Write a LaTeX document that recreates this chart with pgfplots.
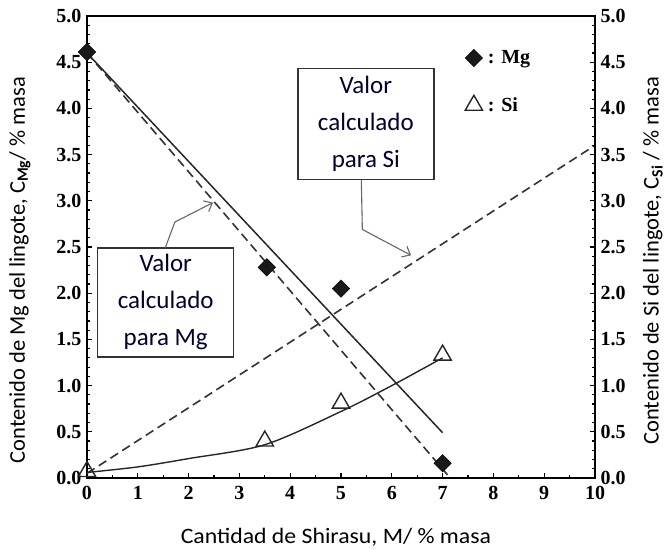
\documentclass[border=0pt]{standalone}
\usepackage{pgfplots}
\pgfplotsset{compat=1.18}
\usepackage{fontspec}
\setmainfont{Liberation Serif}
\newfontfamily\calfont{Carlito}
\newfontfamily\calwide[FakeStretch=1.08]{Carlito}
\usetikzlibrary{arrows.meta}
\begin{document}
\begin{tikzpicture}
\pgfplotsset{
  base/.style={
    width=508pt, height=462pt, scale only axis,
    xmin=0, xmax=10, ymin=0, ymax=5,
    axis line style={line width=1.7pt},
    tick style={line width=1.2pt, black},
    major tick length=5pt, minor tick length=3pt,
    tick align=inside,
    /pgf/number format/assume math mode=true,
    tick label style={font=\fontsize{20}{20}\selectfont\bfseries},
    ytick={0,0.5,...,5},
    minor y tick num=4,
    yticklabel={\pgfmathprintnumber[fixed,fixed zerofill,precision=1,assume math mode=true]{\tick}},
    label style={font=\calfont\fontsize{22.5}{22.5}\selectfont},
  }
}
\begin{axis}[base, name=ax,
  xtick={0,1,...,10}, minor x tick num=1,
  xtick pos=bottom, ytick pos=left,
  xticklabel style={yshift=-5pt},
  yticklabel style={xshift=-2pt},
  xlabel={Cantidad de Shirasu, M/ \% masa},
  ylabel={Contenido de Mg del lingote, C\textsubscript{\textbf{Mg}}/ \% masa},
  xlabel style={at={(axis description cs:0.49,-0.128)}, anchor=center, font=\calwide\fontsize{22}{22}\selectfont},
  ylabel style={at={(axis description cs:-0.132,0.45)}, anchor=center},
  legend style={at={(axis cs:7.38,4.67)}, anchor=north west, draw=none, fill=none,
    font=\fontsize{20}{20}\selectfont\bfseries, row sep=28pt,
    legend cell align=left},
  legend image code/.code={\draw[#1] plot coordinates {(0.3cm,0cm)};},
  clip=false,
]
% markers
\addplot[only marks, mark=square*, mark size=6.2pt, mark options={rotate=45}, black, fill=black!90] coordinates {
(0,4.61) (3.54,2.28) (5,2.05) (7,0.16)};
\addlegendentry{\,: Mg}
\addplot[only marks, mark=triangle, mark size=10pt, black!85, line width=1.4pt, fill=white] coordinates {
(0,0.07) (3.5,0.40) (5,0.81) (7,1.33)};
\addlegendentry{\,: Si}
% lines
\addplot[forget plot, black!85, line width=1.5pt] coordinates {(0,4.6) (7,0.49)};
\addplot[forget plot, black!80, line width=1.6pt, dash pattern=on 9pt off 5pt] coordinates {(0,4.6) (7.15,0)};
\addplot[forget plot, black!80, line width=1.6pt, dash pattern=on 9pt off 5pt] coordinates {(0,0.05) (10,3.6)};
\addplot[forget plot, black!85, line width=1.4pt, smooth] coordinates {(0,0.06) (1,0.12) (2,0.21) (3.5,0.36) (5,0.72) (6,1.0) (7,1.3)};
% boxes
\node[draw=black!80, line width=1.3pt, fill=white, minimum width=136pt, minimum height=109pt,
  align=center, font=\calfont\fontsize{25}{37}\selectfont, text=black!80!blue] at (axis cs:1.55,1.90)
  {Valor\\calculado\\para Mg};
\node[draw=black!80, line width=1.3pt, fill=white, minimum width=136pt, minimum height=111pt,
  align=center, font=\calfont\fontsize{25}{37}\selectfont, text=black!80!blue] at (axis cs:5.49,3.83)
  {Valor\\calculado\\para Si};
\draw[black!60, line width=1.1pt, -{Straight Barb[length=7pt,width=12pt]}]
  (axis cs:1.54,2.49) -- (axis cs:1.73,2.77) -- (axis cs:2.48,2.98);
\draw[black!60, line width=1.1pt, -{Straight Barb[length=7pt,width=12pt]}]
  (axis cs:5.4,3.23) -- (axis cs:5.42,2.69) -- (axis cs:6.38,2.41);
\end{axis}
\begin{axis}[base,
  axis x line=none, axis y line*=right,
  ytick pos=right,
  yticklabel style={xshift=2pt},
  ylabel={Contenido de Si del lingote, C\textsubscript{\textbf{Si}} / \% masa},
  ylabel style={at={(axis description cs:1.114,0.47)}, anchor=center},
]
\addplot[draw=none] coordinates {(0,0)};
\end{axis}
\pgfresetboundingbox
\path ([shift={(-87pt,-72pt)}]ax.south west) rectangle ([shift={(75pt,16pt)}]ax.north east);
\end{tikzpicture}
\end{document}
